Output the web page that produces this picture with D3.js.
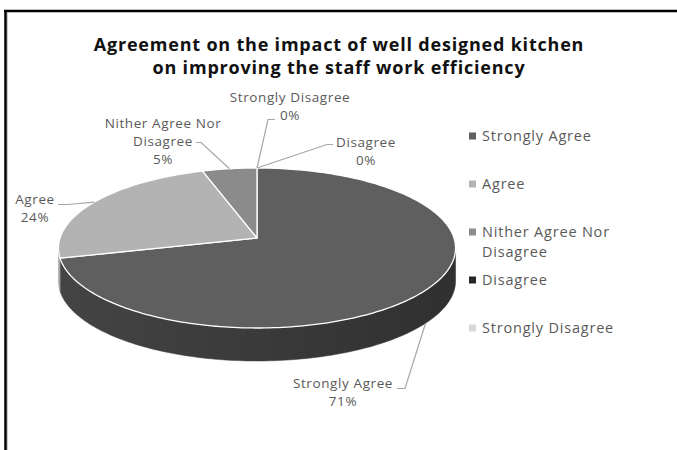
<!DOCTYPE html>
<html>
<head>
<meta charset="utf-8">
<title>3D pie</title>
<script src="https://d3js.org/d3.v7.min.js"></script>
<style>
  body { margin: 0; background: #fff; }
  text { font-family: "Open Sans", Lato, sans-serif; }
</style>
</head>
<body>
<div id="chart"></div>
<script>
// data
let categories = ["Strongly Agree", "Agree", "Nither Agree Nor Disagree", "Disagree", "Strongly Disagree"];
let values = [71, 24, 5, 0, 0];
let pctLabels = ["71%", "24%", "5%", "0%", "0%"];
let titleLines = ["Agreement on the impact of well designed kitchen", "on improving the staff work efficiency"];

// colours
let topColors = ["#5f5f5f", "#b3b3b3", "#8b8b8b", "#262626", "#d9d9d9"];
let sideColors = ["#3a3a3a", "#8c8c8c", "#6a6a6a", "#1a1a1a", "#b0b0b0"];

let W = 677, H = 450;
let svg = d3.select("#chart").append("svg")
    .attr("width", W).attr("height", H);

// border (left + top only visible)
svg.append("line").attr("x1", 5.5).attr("y1", 11).attr("x2", 5.5).attr("y2", H)
    .attr("stroke", "#000").attr("stroke-width", 2.5);
svg.append("line").attr("x1", 4).attr("y1", 11).attr("x2", W).attr("y2", 11)
    .attr("stroke", "#000").attr("stroke-width", 2.5);
svg.append("line").attr("x1", 7.5).attr("y1", 13).attr("x2", 7.5).attr("y2", H)
    .attr("stroke", "#ccc").attr("stroke-width", 1);

// title
svg.append("g").selectAll("text").data(titleLines).enter().append("text")
    .attr("x", 339)
    .attr("y", (d, i) => 51 + i * 23)
    .attr("text-anchor", "middle")
    .attr("font-size", "18px")
    .attr("letter-spacing", "0.8px")
    .attr("font-weight", "bold")
    .attr("fill", "#111")
    .text(d => d);

// pie geometry: tilted disc with a bit of perspective
let cx = 257, cy = 238;
let A = 197, B = 78.75, p = 0.125, depth = 33;

function proj(a, dy) {
    let u = Math.sin(a), v = -Math.cos(a);
    let w = 1 - p * v;
    return [cx + A * u / w, cy + B * v / w + (dy || 0)];
}

let pie = d3.pie().sort(null).startAngle(0).endAngle(2 * Math.PI);
let arcs = pie(values).map((d, i) => Object.assign(d, {i: i}));

let color = d3.scaleOrdinal().domain(categories).range(topColors);
let sideColor = d3.scaleOrdinal().domain(categories).range(sideColors);

function arcPoints(a0, a1, dy) {
    let n = Math.max(2, Math.ceil((a1 - a0) / 0.02));
    return d3.range(n + 1).map(k => proj(a0 + (a1 - a0) * k / n, dy));
}

let line = d3.line();

// side gradient
let defs = svg.append("defs");
categories.forEach((c, i) => {
    let g = defs.append("linearGradient").attr("id", "side" + i)
        .attr("gradientUnits", "userSpaceOnUse")
        .attr("x1", cx - A).attr("x2", cx + A).attr("y1", 0).attr("y2", 0);
    let base = d3.color(sideColor(c));
    g.append("stop").attr("offset", 0).attr("stop-color", base.brighter(0.45));
    g.append("stop").attr("offset", 1).attr("stop-color", base.darker(0.55));
});

// visible front wall between the two silhouette extremes
let aRight = Math.acos(-p), aLeft = 2 * Math.PI - Math.acos(-p);

let sides = svg.append("g");
arcs.forEach(d => {
    let a0 = Math.max(d.startAngle, aRight), a1 = Math.min(d.endAngle, aLeft);
    if (a1 <= a0) return;
    let topPts = arcPoints(a0, a1, 0);
    let botPts = arcPoints(a0, a1, depth).reverse();
    sides.append("path")
        .attr("d", line(topPts.concat(botPts)) + "Z")
        .attr("fill", "url(#side" + d.i + ")")
        .attr("stroke", "url(#side" + d.i + ")")
        .attr("stroke-width", 0.5);
});

let tops = svg.append("g");
arcs.filter(d => d.endAngle > d.startAngle).forEach(d => {
    let pts = [[cx, cy]].concat(arcPoints(d.startAngle, d.endAngle, 0));
    tops.append("path")
        .attr("d", line(pts) + "Z")
        .attr("fill", color(categories[d.i]))
        .attr("stroke", "#fff")
        .attr("stroke-width", 1.3)
        .attr("stroke-linejoin", "round");
});

// data labels: layout (text lines, centre x, first baseline, leader start points)
let labelLayout = [
    {lines: ["Strongly Agree"], x: 343, y: 388, lead: [[397, 388.5], [405, 388.5]], dy: depth},
    {lines: ["Agree"], x: 35, y: 204, lead: [[58, 204.5], [68, 204.5]], dy: 0},
    {lines: ["Nither Agree Nor", "Disagree"], x: 163, y: 128, lead: [[196, 142.5], [201, 142.5]], dy: 0},
    {lines: ["Disagree"], x: 366, y: 147, lead: [[333, 144.5], [327, 144.5]], dy: 0},
    {lines: ["Strongly Disagree"], x: 290, y: 102, lead: [[275, 119.5], [268, 119.5]], dy: 0}
];

let labels = svg.append("g");
arcs.forEach(d => {
    let L = labelLayout[d.i];
    let mid = (d.startAngle + d.endAngle) / 2;
    let end = proj(mid, L.dy);
    labels.append("path")
        .attr("d", line(L.lead.concat([end])))
        .attr("fill", "none")
        .attr("stroke", "#a6a6a6")
        .attr("stroke-width", 1.2);
    let t = labels.append("text")
        .attr("text-anchor", "middle")
        .attr("font-size", "13.5px")
        .attr("letter-spacing", "0.6px")
        .attr("fill", "#5a5a5a");
    L.lines.concat([pctLabels[d.i]]).forEach((s, k) => {
        t.append("tspan").attr("x", L.x).attr("y", L.y + k * 18).text(s);
    });
});

// legend
let legendLines = [["Strongly Agree"], ["Agree"], ["Nither Agree Nor", "Disagree"], ["Disagree"], ["Strongly Disagree"]];
let ly = d3.scalePoint().domain(categories).range([136, 328]);
let legend = svg.append("g");
categories.forEach((c, i) => {
    legend.append("rect")
        .attr("x", 469).attr("y", ly(c) - 3.5)
        .attr("width", 7).attr("height", 7)
        .attr("fill", color(c));
    let t = legend.append("text")
        .attr("font-size", "14.5px")
        .attr("letter-spacing", "0.8px")
        .attr("fill", "#5a5a5a");
    legendLines[i].forEach((s, k) => {
        t.append("tspan").attr("x", 482).attr("y", ly(c) + 5 + k * 20).text(s);
    });
});
</script>
</body>
</html>
